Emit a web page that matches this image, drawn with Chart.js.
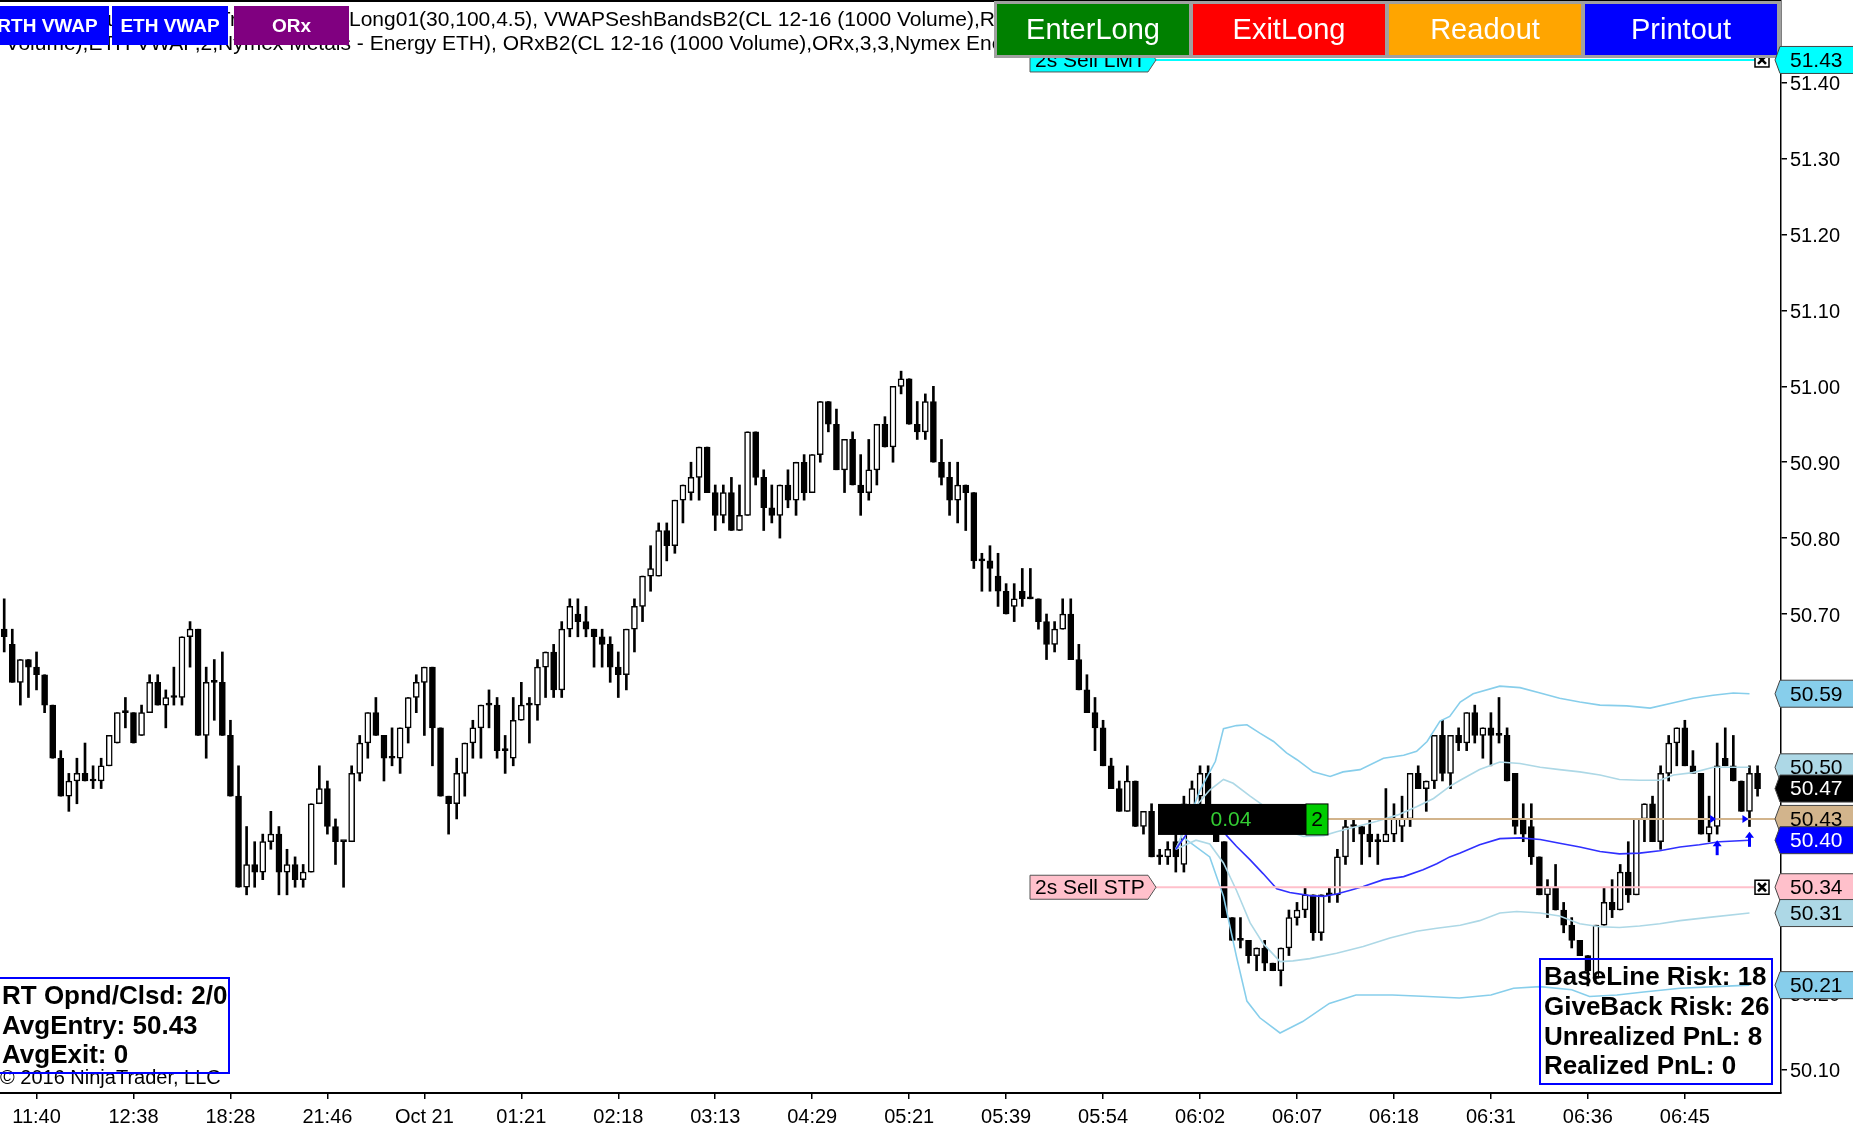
<!DOCTYPE html>
<html>
<head>
<meta charset="utf-8">
<style>
  html, body { margin: 0; padding: 0; background: #fff; overflow: hidden; }
  #chart { display: block; }
</style>
<script src="https://cdn.jsdelivr.net/npm/chart.js@4.4.1/dist/chart.umd.min.js"></script>
</head>
<body>
<canvas id="chart" width="1853" height="1125"></canvas>
<script>
// CL 12-16 (1000 Volume) bars
const opens = [
  50.68, 50.66, 50.61, 50.64, 50.63, 50.62, 50.58, 50.51, 50.46, 50.48,
  50.49, 50.48, 50.48, 50.50, 50.53, 50.57, 50.57, 50.54, 50.57, 50.61,
  50.58, 50.59, 50.59, 50.67, 50.68, 50.54, 50.61, 50.61, 50.54, 50.46,
  50.34, 50.37, 50.36, 50.40, 50.41, 50.36, 50.37, 50.35, 50.36, 50.45,
  50.47, 50.42, 50.40, 50.40, 50.49, 50.53, 50.57, 50.54, 50.51, 50.51,
  50.55, 50.59, 50.61, 50.63, 50.55, 50.46, 50.45, 50.49, 50.53, 50.55,
  50.58, 50.58, 50.52, 50.51, 50.56, 50.58, 50.58, 50.63, 50.65, 50.60,
  50.68, 50.70, 50.69, 50.68, 50.67, 50.66, 50.63, 50.62, 50.68, 50.71,
  50.75, 50.75, 50.81, 50.79, 50.85, 50.86, 50.88, 50.92, 50.86, 50.83,
  50.86, 50.81, 50.83, 50.94, 50.88, 50.84, 50.83, 50.87, 50.85, 50.90,
  50.86, 50.91, 50.98, 50.95, 50.89, 50.93, 50.87, 50.86, 50.89, 50.95,
  50.92, 51.00, 51.01, 50.95, 50.94, 50.98, 50.90, 50.88, 50.85, 50.87,
  50.86, 50.77, 50.77, 50.75, 50.73, 50.71, 50.73, 50.72, 50.72, 50.69,
  50.66, 50.68, 50.70, 50.64, 50.60, 50.57, 50.55, 50.50, 50.47, 50.44,
  50.48, 50.42, 50.44, 50.38, 50.38, 50.40, 50.37, 50.44, 50.46, 50.49,
  50.43, 50.40, 50.30, 50.27, 50.27, 50.25, 50.26, 50.24, 50.23, 50.26,
  50.30, 50.31, 50.33, 50.28, 50.33, 50.33, 50.38, 50.42, 50.42, 50.41,
  50.40, 50.40, 50.41, 50.42, 50.43, 50.49, 50.47, 50.48, 50.54, 50.49,
  50.54, 50.53, 50.57, 50.54, 50.55, 50.54, 50.54, 50.49, 50.43, 50.42,
  50.38, 50.33, 50.34, 50.31, 50.29, 50.27, 50.25, 50.22, 50.29, 50.32,
  50.31, 50.36, 50.33, 50.43, 50.45, 50.40, 50.49, 50.53, 50.55, 50.50,
  50.49, 50.41, 50.42, 50.51, 50.50, 50.48, 50.44, 50.49
]
const highs = [
  50.72, 50.68, 50.64, 50.64, 50.65, 50.62, 50.58, 50.52, 50.49, 50.51,
  50.53, 50.50, 50.51, 50.54, 50.57, 50.59, 50.57, 50.58, 50.62, 50.62,
  50.60, 50.63, 50.67, 50.69, 50.68, 50.63, 50.64, 50.65, 50.56, 50.50,
  50.42, 50.40, 50.41, 50.44, 50.42, 50.39, 50.38, 50.37, 50.45, 50.50,
  50.48, 50.43, 50.40, 50.50, 50.54, 50.57, 50.59, 50.54, 50.55, 50.55,
  50.59, 50.62, 50.63, 50.63, 50.55, 50.46, 50.51, 50.53, 50.56, 50.58,
  50.60, 50.59, 50.54, 50.59, 50.61, 50.59, 50.64, 50.65, 50.66, 50.69,
  50.72, 50.72, 50.71, 50.68, 50.68, 50.67, 50.65, 50.68, 50.72, 50.75,
  50.79, 50.82, 50.82, 50.85, 50.87, 50.90, 50.92, 50.92, 50.87, 50.87,
  50.88, 50.87, 50.94, 50.94, 50.89, 50.87, 50.87, 50.89, 50.90, 50.91,
  50.91, 50.98, 50.98, 50.97, 50.93, 50.94, 50.91, 50.93, 50.95, 50.96,
  51.00, 51.02, 51.01, 50.98, 50.99, 51.00, 50.93, 50.90, 50.90, 50.87,
  50.86, 50.78, 50.79, 50.78, 50.74, 50.74, 50.76, 50.76, 50.72, 50.70,
  50.69, 50.72, 50.72, 50.66, 50.62, 50.59, 50.56, 50.51, 50.48, 50.50,
  50.48, 50.44, 50.45, 50.39, 50.40, 50.41, 50.46, 50.48, 50.50, 50.50,
  50.44, 50.40, 50.30, 50.30, 50.27, 50.26, 50.27, 50.24, 50.26, 50.31,
  50.32, 50.34, 50.33, 50.33, 50.34, 50.39, 50.43, 50.43, 50.42, 50.43,
  50.41, 50.47, 50.45, 50.46, 50.49, 50.50, 50.48, 50.54, 50.56, 50.54,
  50.55, 50.57, 50.58, 50.55, 50.57, 50.59, 50.55, 50.49, 50.45, 50.45,
  50.38, 50.35, 50.37, 50.32, 50.30, 50.27, 50.25, 50.29, 50.34, 50.35,
  50.37, 50.40, 50.43, 50.45, 50.46, 50.50, 50.54, 50.55, 50.56, 50.52,
  50.49, 50.46, 50.53, 50.55, 50.54, 50.48, 50.50, 50.50
]
const lows = [
  50.65, 50.61, 50.58, 50.59, 50.60, 50.57, 50.51, 50.46, 50.44, 50.45,
  50.48, 50.47, 50.47, 50.50, 50.53, 50.55, 50.53, 50.54, 50.57, 50.58,
  50.55, 50.58, 50.58, 50.63, 50.54, 50.51, 50.56, 50.54, 50.46, 50.34,
  50.33, 50.34, 50.35, 50.39, 50.33, 50.33, 50.34, 50.34, 50.36, 50.45,
  50.41, 50.37, 50.34, 50.40, 50.48, 50.51, 50.54, 50.48, 50.50, 50.49,
  50.53, 50.57, 50.54, 50.50, 50.46, 50.41, 50.43, 50.46, 50.51, 50.51,
  50.55, 50.51, 50.49, 50.50, 50.56, 50.53, 50.56, 50.59, 50.59, 50.59,
  50.67, 50.67, 50.67, 50.63, 50.63, 50.61, 50.59, 50.60, 50.65, 50.69,
  50.73, 50.75, 50.77, 50.78, 50.82, 50.85, 50.85, 50.86, 50.81, 50.82,
  50.81, 50.81, 50.83, 50.87, 50.81, 50.82, 50.80, 50.84, 50.83, 50.85,
  50.86, 50.90, 50.94, 50.89, 50.86, 50.87, 50.83, 50.85, 50.87, 50.92,
  50.90, 50.99, 50.95, 50.93, 50.93, 50.90, 50.87, 50.83, 50.82, 50.81,
  50.76, 50.73, 50.73, 50.71, 50.70, 50.69, 50.71, 50.72, 50.68, 50.64,
  50.65, 50.68, 50.64, 50.60, 50.57, 50.52, 50.50, 50.47, 50.44, 50.44,
  50.42, 50.41, 50.38, 50.37, 50.37, 50.36, 50.36, 50.43, 50.45, 50.43,
  50.40, 50.30, 50.27, 50.26, 50.24, 50.23, 50.23, 50.23, 50.21, 50.25,
  50.29, 50.30, 50.27, 50.27, 50.32, 50.32, 50.37, 50.40, 50.37, 50.38,
  50.37, 50.40, 50.40, 50.40, 50.42, 50.47, 50.44, 50.47, 50.48, 50.47,
  50.52, 50.52, 50.53, 50.51, 50.50, 50.53, 50.48, 50.41, 50.40, 50.37,
  50.33, 50.30, 50.31, 50.28, 50.26, 50.25, 50.21, 50.22, 50.29, 50.30,
  50.31, 50.32, 50.33, 50.40, 50.40, 50.39, 50.48, 50.50, 50.50, 50.49,
  50.41, 50.40, 50.41, 50.50, 50.48, 50.44, 50.42, 50.46
]
const closes = [
  50.67, 50.61, 50.64, 50.63, 50.62, 50.58, 50.51, 50.46, 50.48, 50.49,
  50.48, 50.48, 50.50, 50.54, 50.57, 50.57, 50.53, 50.57, 50.61, 50.58,
  50.59, 50.59, 50.67, 50.68, 50.54, 50.61, 50.61, 50.54, 50.46, 50.34,
  50.37, 50.36, 50.40, 50.41, 50.36, 50.37, 50.35, 50.36, 50.45, 50.47,
  50.42, 50.40, 50.40, 50.49, 50.53, 50.57, 50.54, 50.51, 50.51, 50.55,
  50.59, 50.61, 50.63, 50.55, 50.46, 50.45, 50.49, 50.53, 50.55, 50.58,
  50.58, 50.52, 50.52, 50.56, 50.58, 50.58, 50.63, 50.65, 50.60, 50.68,
  50.71, 50.69, 50.68, 50.67, 50.66, 50.63, 50.62, 50.68, 50.71, 50.75,
  50.76, 50.81, 50.79, 50.85, 50.87, 50.88, 50.92, 50.86, 50.83, 50.86,
  50.81, 50.83, 50.94, 50.88, 50.84, 50.83, 50.87, 50.85, 50.90, 50.86,
  50.91, 50.98, 50.95, 50.89, 50.93, 50.87, 50.86, 50.89, 50.95, 50.92,
  51.00, 51.01, 50.95, 50.94, 50.98, 50.90, 50.88, 50.85, 50.87, 50.86,
  50.77, 50.77, 50.76, 50.73, 50.70, 50.72, 50.72, 50.72, 50.69, 50.66,
  50.68, 50.70, 50.64, 50.60, 50.57, 50.55, 50.50, 50.47, 50.44, 50.48,
  50.42, 50.44, 50.38, 50.38, 50.39, 50.38, 50.45, 50.47, 50.49, 50.43,
  50.40, 50.30, 50.27, 50.27, 50.25, 50.26, 50.24, 50.23, 50.26, 50.30,
  50.31, 50.33, 50.28, 50.33, 50.33, 50.38, 50.42, 50.42, 50.41, 50.40,
  50.40, 50.41, 50.43, 50.43, 50.49, 50.47, 50.48, 50.54, 50.49, 50.54,
  50.53, 50.57, 50.54, 50.55, 50.54, 50.54, 50.48, 50.42, 50.41, 50.38,
  50.33, 50.34, 50.31, 50.29, 50.27, 50.25, 50.23, 50.29, 50.32, 50.31,
  50.36, 50.33, 50.43, 50.45, 50.40, 50.49, 50.53, 50.55, 50.50, 50.49,
  50.41, 50.42, 50.50, 50.50, 50.48, 50.44, 50.49, 50.47
]

// time axis
const xTickLabels = ['11:40', '12:38', '18:28', '21:46', 'Oct 21', '01:21', '02:18', '03:13', '04:29',
  '05:21', '05:39', '05:54', '06:02', '06:07', '06:18', '06:31', '06:36', '06:45']
const xTickBars = [4, 16, 28, 40, 52, 64, 76, 88, 100, 112, 124, 136, 148, 160, 172, 184, 196, 208]
const yTickValues = [50.10, 50.20, 50.30, 50.40, 50.50, 50.60, 50.70, 50.80, 50.90, 51.00, 51.10, 51.20, 51.30, 51.40]

// session VWAP and bands, [bar, price]
const vwapLine = [[145, 50.39], [147, 50.42], [149, 50.43], [150.5, 50.42], [151.3, 50.408], [152.5, 50.394],
  [154.2, 50.376], [155.8, 50.358], [157.5, 50.338], [159.1, 50.333], [161.6, 50.329], [163.3, 50.328],
  [164.9, 50.331], [166.6, 50.336], [168.2, 50.341], [170.7, 50.35], [173.2, 50.354], [175.6, 50.363],
  [177.3, 50.371], [178.9, 50.38], [180.2, 50.385], [182.6, 50.396], [185.1, 50.404], [187.6, 50.405],
  [190.1, 50.403], [192.5, 50.398], [195, 50.393], [197.5, 50.387], [199.9, 50.384], [202.4, 50.385],
  [204.9, 50.388], [207.4, 50.393], [209.8, 50.396], [212.3, 50.4], [216, 50.402]]
const upperOuter = [[145, 50.39], [146.4, 50.424], [148, 50.468], [149.9, 50.506], [150.9, 50.549],
  [152.5, 50.553], [153.8, 50.554], [155.4, 50.543], [157.1, 50.532], [158.7, 50.517], [160, 50.508],
  [162, 50.492], [164.1, 50.486], [165.7, 50.492], [167.8, 50.495], [170.7, 50.51], [173.2, 50.514],
  [174.8, 50.519], [176.1, 50.532], [177.7, 50.559], [178.9, 50.565], [180.2, 50.584], [181.8, 50.595],
  [185.1, 50.605], [187.6, 50.603], [190.1, 50.596], [192.5, 50.589], [195, 50.584], [197.5, 50.58],
  [200.8, 50.579], [203.7, 50.576], [206.6, 50.583], [209, 50.589], [211.5, 50.593], [214, 50.596], [216, 50.595]]
const upperInner = [[145, 50.39], [147.1, 50.442], [149.2, 50.468], [150.9, 50.482], [152.1, 50.477],
  [154.2, 50.46], [155.8, 50.448], [158.3, 50.416], [160.8, 50.407], [163.3, 50.408], [164.9, 50.413],
  [167.4, 50.42], [169.9, 50.427], [172.4, 50.435], [174.8, 50.446], [176.9, 50.457], [178.9, 50.473],
  [180.2, 50.481], [182.6, 50.495], [185.1, 50.505], [187.6, 50.503], [190.1, 50.498], [192.5, 50.495],
  [195, 50.492], [197.5, 50.488], [199.9, 50.482], [202.4, 50.481], [204.9, 50.481], [206.6, 50.488],
  [209, 50.491], [211.5, 50.498], [216, 50.498]]
const lowerInner = [[145, 50.39], [147.5, 50.402], [149.2, 50.397], [150.9, 50.372], [152.5, 50.336],
  [154.2, 50.293], [155.8, 50.266], [157.9, 50.242], [159.5, 50.243], [161.6, 50.246], [164.9, 50.253],
  [168.2, 50.262], [171.5, 50.273], [174.8, 50.282], [177.3, 50.286], [180.2, 50.29], [182.6, 50.296],
  [185.1, 50.306], [187.2, 50.308], [190.1, 50.306], [192.5, 50.302], [195, 50.292], [197.5, 50.288],
  [199.9, 50.287], [202.4, 50.289], [204.9, 50.292], [207.4, 50.296], [210.7, 50.3], [216, 50.306]]
const lowerOuter = [[145, 50.39], [146, 50.405], [149.2, 50.38], [150.9, 50.328], [152.5, 50.249],
  [153.8, 50.19], [155.4, 50.168], [157.9, 50.148], [160.7, 50.163], [164, 50.187], [167.3, 50.198],
  [171.8, 50.198], [176.2, 50.196], [180.1, 50.194], [184, 50.198], [186.8, 50.207], [190.1, 50.209],
  [194, 50.205], [196.2, 50.196], [199.6, 50.198], [202.9, 50.202], [207.4, 50.207], [211.8, 50.209], [216, 50.211]]

// orders, position and markers
const limitPrice = 51.43
const stopPrice = 50.34
const avgEntry = 50.43
const buyArrowBars = [212, 216]
const buyArrowPrices = [50.402, 50.413]
const fillBars = [211.5, 215.5]
const leftInfo = ['RT Opnd/Clsd: 2/0', 'AvgEntry: 50.43', 'AvgExit: 0']
const rightInfo = ['BaseLine Risk: 18', 'GiveBack Risk: 26', 'Unrealized PnL: 8', 'Realized PnL: 0']

const lastOf = pts => pts[pts.length - 1][1]
// axis markers, drawn in this order
const tagPrices = [lastOf(upperOuter), lastOf(upperInner), closes[closes.length - 1], avgEntry,
  lastOf(vwapLine), stopPrice, lastOf(lowerInner), lastOf(lowerOuter), limitPrice]
const tagFills = ['#87CEEB', '#ADD8E6', '#000000', '#D2B48C', '#0000FF', '#FFC0CB', '#ADD8E6', '#87CEEB', '#00FFFF']
const tagInks = ['#000', '#000', '#fff', '#000', '#fff', '#000', '#000', '#000', '#000']

const FONT = '"Liberation Sans", Arial, sans-serif'

const wicks = lows.map((l, i) => ({ x: i, y: [l, highs[i]] }))
const bodies = opens.map((o, i) => ({ x: i, y: [o, closes[i]] }))
const bodyFill = opens.map((o, i) => closes[i] > o ? '#ffffff' : '#000000')
const toXY = pts => pts.map(p => ({ x: p[0], y: p[1] }))

function lineSet(pts, color) {
  return {
    type: 'line', data: toXY(pts), borderColor: color, borderWidth: 1.6,
    pointRadius: 0, fill: false, tension: 0
  }
}

function priceTag(ctx, right, yPix, text, fill, ink) {
  const h = 27
  ctx.beginPath()
  ctx.moveTo(right - 6, yPix)
  ctx.lineTo(right - 1, yPix - h / 2)
  ctx.lineTo(1856, yPix - h / 2)
  ctx.lineTo(1856, yPix + h / 2)
  ctx.lineTo(right - 1, yPix + h / 2)
  ctx.closePath()
  ctx.fillStyle = fill
  ctx.fill()
  ctx.strokeStyle = '#444'
  ctx.lineWidth = 1
  ctx.stroke()
  ctx.fillStyle = ink
  ctx.font = '21px ' + FONT
  ctx.textAlign = 'left'
  ctx.textBaseline = 'middle'
  ctx.fillText(text, right + 9, yPix + 1)
}

function orderTag(ctx, x0, x1, yPix, text, fill) {
  const h = 24
  ctx.beginPath()
  ctx.moveTo(x0, yPix - h / 2)
  ctx.lineTo(x1 - 8, yPix - h / 2)
  ctx.lineTo(x1, yPix)
  ctx.lineTo(x1 - 8, yPix + h / 2)
  ctx.lineTo(x0, yPix + h / 2)
  ctx.closePath()
  ctx.fillStyle = fill
  ctx.fill()
  ctx.strokeStyle = '#555'
  ctx.lineWidth = 1
  ctx.stroke()
  ctx.fillStyle = '#000'
  ctx.font = '21px ' + FONT
  ctx.textAlign = 'left'
  ctx.textBaseline = 'middle'
  ctx.fillText(text, x0 + 5, yPix + 1)
}

function closeBox(ctx, cx, cy) {
  ctx.fillStyle = '#fff'
  ctx.fillRect(cx - 7, cy - 7, 14, 14)
  ctx.strokeStyle = '#000'
  ctx.lineWidth = 1.5
  ctx.strokeRect(cx - 7, cy - 7, 14, 14)
  ctx.lineWidth = 2.5
  ctx.beginPath()
  ctx.moveTo(cx - 4, cy - 4); ctx.lineTo(cx + 4, cy + 4)
  ctx.moveTo(cx + 4, cy - 4); ctx.lineTo(cx - 4, cy + 4)
  ctx.stroke()
}

function button(ctx, x0, x1, y0, y1, fill, text, font) {
  ctx.fillStyle = fill
  ctx.fillRect(x0, y0, x1 - x0, y1 - y0)
  ctx.fillStyle = '#fff'
  ctx.font = font
  ctx.textAlign = 'center'
  ctx.textBaseline = 'middle'
  ctx.fillText(text, (x0 + x1) / 2, (y0 + y1) / 2 + 1)
}

const overlay = {
  id: 'overlay',
  afterDatasetsDraw(chart) {
    const { ctx, chartArea } = chart
    const xs = chart.scales.x, ys = chart.scales.y
    const yLmt = ys.getPixelForValue(limitPrice)
    const yStp = ys.getPixelForValue(stopPrice)
    const yAvg = ys.getPixelForValue(avgEntry)
    ctx.save()

    // working orders
    ctx.lineWidth = 2
    ctx.strokeStyle = '#00FFFF'
    ctx.beginPath(); ctx.moveTo(1156, yLmt); ctx.lineTo(1755, yLmt); ctx.stroke()
    ctx.strokeStyle = '#FFC0CB'
    ctx.beginPath(); ctx.moveTo(1156, yStp); ctx.lineTo(1755, yStp); ctx.stroke()
    ctx.strokeStyle = '#D2B48C'
    ctx.beginPath(); ctx.moveTo(1328, yAvg); ctx.lineTo(chartArea.right, yAvg); ctx.stroke()
    orderTag(ctx, 1030, 1156, yLmt, '2s Sell LMT', '#00FFFF')
    orderTag(ctx, 1030, 1156, yStp, '2s Sell STP', '#FFC0CB')
    closeBox(ctx, 1762, yLmt)
    closeBox(ctx, 1762, yStp)

    // position box
    ctx.fillStyle = '#000'
    ctx.fillRect(1158, yAvg - 15, 148, 31)
    ctx.fillStyle = '#00CC00'
    ctx.fillRect(1306, yAvg - 15, 22, 31)
    ctx.strokeStyle = '#000'
    ctx.lineWidth = 1
    ctx.strokeRect(1306, yAvg - 15, 22, 31)
    ctx.font = '21px ' + FONT
    ctx.textAlign = 'center'
    ctx.textBaseline = 'middle'
    ctx.fillStyle = '#33CC33'
    ctx.fillText('0.04', 1231, yAvg + 1)
    ctx.fillStyle = '#000'
    ctx.fillText('2', 1317, yAvg + 1)

    // fills and buy arrows
    ctx.fillStyle = '#0000FF'
    fillBars.forEach(b => {
      const px = xs.getPixelForValue(b)
      ctx.beginPath()
      ctx.moveTo(px - 3, yAvg - 4); ctx.lineTo(px + 3, yAvg); ctx.lineTo(px - 3, yAvg + 4)
      ctx.closePath(); ctx.fill()
    })
    buyArrowBars.forEach((b, i) => {
      const px = xs.getPixelForValue(b)
      const py = ys.getPixelForValue(buyArrowPrices[i])
      ctx.beginPath()
      ctx.moveTo(px, py); ctx.lineTo(px + 4.5, py + 6); ctx.lineTo(px - 4.5, py + 6)
      ctx.closePath(); ctx.fill()
      ctx.fillRect(px - 1.5, py + 5, 3, 10)
    })

    // info boxes
    ctx.fillStyle = '#000'
    ctx.font = '20px ' + FONT
    ctx.textAlign = 'left'
    ctx.fillText('\u00A9 2016 NinjaTrader, LLC', 0, 1078)
    ctx.font = 'bold 26px ' + FONT
    leftInfo.forEach((t, i) => ctx.fillText(t, 2, 997 + i * 29.5))
    rightInfo.forEach((t, i) => ctx.fillText(t, 1544, 978 + i * 29.7))
    ctx.strokeStyle = '#0000FF'
    ctx.lineWidth = 2
    ctx.strokeRect(-2, 978, 231, 95)
    ctx.strokeRect(1540, 959, 232, 125)
    ctx.restore()
  },
  afterDraw(chart) {
    const { ctx, chartArea } = chart
    const ys = chart.scales.y
    ctx.save()

    // panel top edge
    ctx.fillStyle = '#000'
    ctx.fillRect(0, 0, chartArea.right, 2)

    // indicator captions
    ctx.font = '21px ' + FONT
    ctx.textBaseline = 'middle'
    ctx.textAlign = 'right'
    ctx.fillText('CL 12-16 (1000 Volume), ChartTraderLong01', 349, 20)
    ctx.fillText('Volume),ETH VWAP,2,Nymex Metals', 351, 44)
    ctx.textAlign = 'left'
    ctx.fillText('Long01(30,100,4.5), VWAPSeshBandsB2(CL 12-16 (1000 Volume),RTH VWAP,2,Nymex', 349, 20)
    ctx.fillText(' - Energy ETH), ORxB2(CL 12-16 (1000 Volume),ORx,3,3,Nymex Energy RTH)', 351, 44)

    // toolbar buttons
    const small = 'bold 19px ' + FONT
    button(ctx, -14, 109, 6, 45, '#0000FF', 'RTH VWAP', small)
    button(ctx, 112, 228, 6, 45, '#0000FF', 'ETH VWAP', small)
    button(ctx, 234, 349, 6, 45, '#800080', 'ORx', small)
    ctx.fillStyle = '#A0A0A0'
    ctx.fillRect(994, 1, 787, 57)
    const big = '29px ' + FONT
    button(ctx, 997, 1189, 4, 55, '#008000', 'EnterLong', big)
    button(ctx, 1193, 1385, 4, 55, '#FF0000', 'ExitLong', big)
    button(ctx, 1389, 1581, 4, 55, '#FFA500', 'Readout', big)
    button(ctx, 1585, 1777, 4, 55, '#0000FF', 'Printout', big)

    // price markers on the axis
    tagPrices.forEach((p, i) => {
      priceTag(ctx, chartArea.right, ys.getPixelForValue(p), p.toFixed(2), tagFills[i], tagInks[i])
    })
    ctx.restore()
  }
}

new Chart(document.getElementById('chart'), {
  type: 'bar',
  data: {
    datasets: [
      lineSet(vwapLine, '#3030FF'),
      lineSet(upperInner, '#ADD8E6'),
      lineSet(lowerInner, '#ADD8E6'),
      lineSet(upperOuter, '#87CEEB'),
      lineSet(lowerOuter, '#87CEEB'),
      {
        data: bodies, backgroundColor: bodyFill, borderColor: '#000', borderWidth: 1.5,
        borderSkipped: false, barThickness: 6, minBarLength: 2, grouped: false
      },
      {
        data: wicks, backgroundColor: '#000', borderWidth: 0, barThickness: 2, grouped: false
      }
    ]
  },
  options: {
    responsive: false,
    devicePixelRatio: 1,
    animation: false,
    layout: { padding: 0 },
    plugins: { legend: { display: false }, tooltip: { enabled: false } },
    scales: {
      x: {
        type: 'linear', min: -0.52, max: 219.9, offset: false,
        afterBuildTicks: s => { s.ticks = xTickBars.map(v => ({ value: v })) },
        afterFit: s => { s.height = 32; s.paddingLeft = 0; s.paddingRight = 0 },
        ticks: {
          autoSkip: false, maxRotation: 0, padding: 6, color: '#000',
          font: { family: FONT, size: 20 },
          callback: (v, i) => xTickLabels[i]
        },
        grid: { offset: false, drawOnChartArea: false, drawTicks: true, tickLength: 6, color: '#000', lineWidth: 1.5 },
        border: { display: true, color: '#000', width: 2 }
      },
      y: {
        type: 'linear', position: 'right', min: 50.0689, max: 51.509, beginAtZero: false,
        afterBuildTicks: s => { s.ticks = yTickValues.map(v => ({ value: v })) },
        afterFit: s => { s.width = 72; s.paddingTop = 0; s.paddingBottom = 0 },
        ticks: {
          autoSkip: false, padding: 3, labelOffset: 2, color: '#000',
          font: { family: FONT, size: 20 },
          callback: v => v.toFixed(2)
        },
        grid: { drawOnChartArea: false, drawTicks: true, tickLength: 6, color: '#000', lineWidth: 1.5 },
        border: { display: true, color: '#000', width: 1.5 }
      }
    }
  },
  plugins: [overlay]
})
</script>
</body>
</html>
